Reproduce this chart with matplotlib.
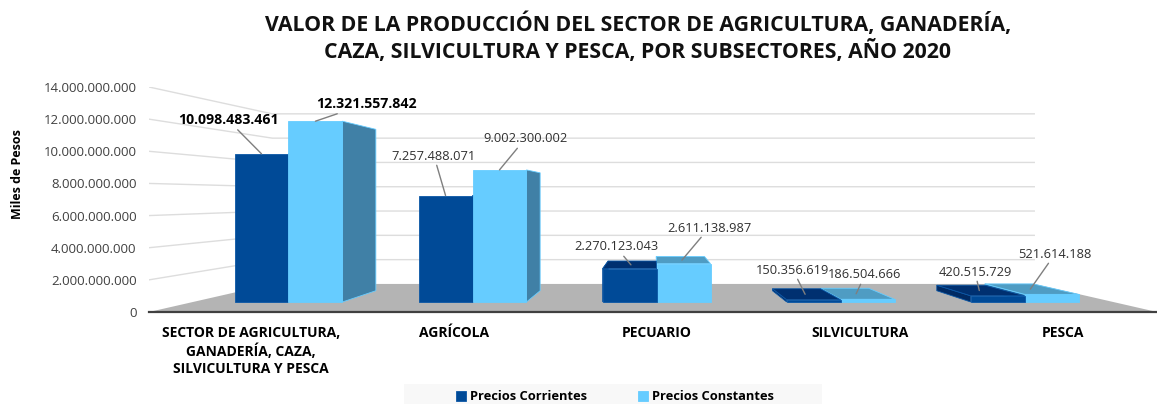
import matplotlib
matplotlib.use('Agg')
import matplotlib.pyplot as plt
from matplotlib.patches import Polygon, Rectangle
from matplotlib.ticker import FuncFormatter

plt.rcParams['font.family'] = ['Open Sans', 'DejaVu Sans']

categories = ['SECTOR DE AGRICULTURA,\nGANADERÍA, CAZA,\nSILVICULTURA Y PESCA',
              'AGRÍCOLA', 'PECUARIO', 'SILVICULTURA', 'PESCA']
corrientes = [10098483461, 7257488071, 2270123043, 150356619, 420515729]
constantes = [12321557842, 9002300002, 2611138987, 186504666, 521614188]
y_ticks = [0, 2000000000, 4000000000, 6000000000, 8000000000, 10000000000, 12000000000, 14000000000]

W, H = 1157, 404
# label centres in pixels, and colours for the fake 3d faces
corr_label_pos = [(228, 120), (434, 156), (616, 247), (793, 270), (975, 272)]
cons_label_pos = [(366, 104), (525, 139), (709, 228), (865, 275), (1055, 254)]
DARK = {'front': '#004A97', 'top': '#003070', 'side': '#002A63', 'edge': '#0B57A6'}
LIGHT = {'front': '#66CCFF', 'top': '#4F9CC3', 'side': '#4080A6', 'edge': '#66CCFF'}

fig = plt.figure(figsize=(W / 100, H / 100), dpi=100)
# front plane of the chart: 0 sits at y=312 and 14e9 at y=87, x runs 149..1157
ax = fig.add_axes([149 / W, 1 - 312 / H, 1008 / W, 225 / H])
ax.set_xlim(0, 5)
ax.set_ylim(0, 14e9)
for s in ax.spines.values():
    s.set_visible(False)
ax.patch.set_visible(False)

# perspective: depth scale 1 is the front plane, everything shrinks towards a vanishing point
VP_X, VP_Y = 2.505, 7.156e9
S_BACK, S_FRONT, S_BAR_BACK = 0.756, 0.913, 0.815


def proj(x, v, s):
    return (VP_X + s * (x - VP_X), VP_Y + s * (v - VP_Y))


# floor and walls
ax.add_patch(Polygon([proj(0, 0, 1), proj(0, 0, S_BACK), proj(5, 0, S_BACK), proj(5, 0, 1)],
                     fc='#B4B4B4', ec='none', zorder=1, clip_on=False))
for t in y_ticks[1:]:
    p0, p1, p2 = proj(0, t, 1), proj(0, t, S_BACK), proj(5, t, S_BACK)
    ax.plot([p0[0], p1[0], p2[0]], [p0[1], p1[1], p2[1]], color='#DDDDDD', lw=1, zorder=0.5)
ax.plot([0, 5], [0, 0], color='#404040', lw=1.6, zorder=2, clip_on=False)


def bar(x0, x1, v, st, z, label=None):
    # visible side depends on which side of the vanishing point the bar is
    if x1 < VP_X:
        side = [proj(x1, 0, S_FRONT), proj(x1, 0, S_BAR_BACK), proj(x1, v, S_BAR_BACK), proj(x1, v, S_FRONT)]
    else:
        side = [proj(x0, 0, S_FRONT), proj(x0, 0, S_BAR_BACK), proj(x0, v, S_BAR_BACK), proj(x0, v, S_FRONT)]
    ax.add_patch(Polygon(side, fc=st['side'], ec=st['edge'], lw=0.6, zorder=z))
    if v < VP_Y:
        top = [proj(x0, v, S_FRONT), proj(x1, v, S_FRONT), proj(x1, v, S_BAR_BACK), proj(x0, v, S_BAR_BACK)]
        ax.add_patch(Polygon(top, fc=st['top'], ec=st['edge'], lw=0.6, zorder=z + 0.1))
    front = [proj(x0, 0, S_FRONT), proj(x1, 0, S_FRONT), proj(x1, v, S_FRONT), proj(x0, v, S_FRONT)]
    ax.add_patch(Polygon(front, fc=st['front'], ec=st['edge'], lw=0.6, zorder=z + 0.2, label=label))


def value_label(x0, x1, v, pos, weight):
    # leader goes to the front edge on tall bars, to the middle of the top on short ones
    s = S_FRONT if v > VP_Y else (S_FRONT + S_BAR_BACK) / 2
    ax.annotate(f'{v:,}'.replace(',', '.'), xy=proj((x0 + x1) / 2, v, s),
                xytext=(pos[0], H - pos[1]), textcoords='figure pixels',
                ha='center', va='center', fontsize=10.2 if weight == 'bold' else 9.3, fontweight=weight,
                color='black' if weight == 'bold' else '#303030', zorder=20,
                arrowprops=dict(arrowstyle='-', color='#7F7F7F', lw=1, shrinkA=0, shrinkB=0))


bw = 0.293
for i in range(len(categories)):
    c = i + 0.5 + 0.019
    # draw the bar nearer the centre last
    z_dark, z_light = (5, 6) if c < VP_X else (6, 5)
    bar(c - bw, c, corrientes[i], DARK, 5 + i * 0.01 + z_dark, 'Precios Corrientes' if i == 0 else None)
    bar(c, c + bw, constantes[i], LIGHT, 5 + i * 0.01 + z_light, 'Precios Constantes' if i == 0 else None)
    weight = 'bold' if i == 0 else 'normal'
    value_label(c - bw, c, corrientes[i], corr_label_pos[i], weight)
    value_label(c, c + bw, constantes[i], cons_label_pos[i], weight)

ax.set_yticks(y_ticks)
ax.yaxis.set_major_formatter(FuncFormatter(lambda v, p: f'{int(v):,}'.replace(',', '.')))
ax.tick_params(axis='y', length=0, pad=9, labelsize=9.5, labelcolor='#404040')
ax.set_xticks([i * 1.007 + 0.505 for i in range(len(categories))])
ax.set_xticklabels(categories, fontweight='bold', fontsize=10, linespacing=1.3)
ax.tick_params(axis='x', length=0, pad=10, labelcolor='black')

fig.text(18 / W, 1 - 174 / H, 'Miles de Pesos', rotation=90, ha='center', va='center',
         fontsize=9, fontweight='bold', color='black')
fig.text(638 / W, 1 - 37.5 / H,
         'VALOR DE LA PRODUCCIÓN DEL SECTOR DE AGRICULTURA, GANADERÍA,\n'
         'CAZA, SILVICULTURA Y PESCA, POR SUBSECTORES, AÑO 2020',
         ha='center', va='center', fontsize=15.3, fontweight='bold', color='#111111', linespacing=1.22)

fig.add_artist(Rectangle((404 / W, 0), 418 / W, 20 / H, transform=fig.transFigure, fc='#F8F8F8', ec='none'))
fig.legend(*ax.get_legend_handles_labels(), ncol=2, frameon=False, loc='center',
           bbox_to_anchor=(615 / W, 1 - 397 / H), prop={'weight': 'bold', 'size': 9.3},
           handlelength=0.8, handleheight=0.8, handletextpad=0.3, columnspacing=3.9, borderpad=0)

fig.savefig('out.png', dpi=100)
